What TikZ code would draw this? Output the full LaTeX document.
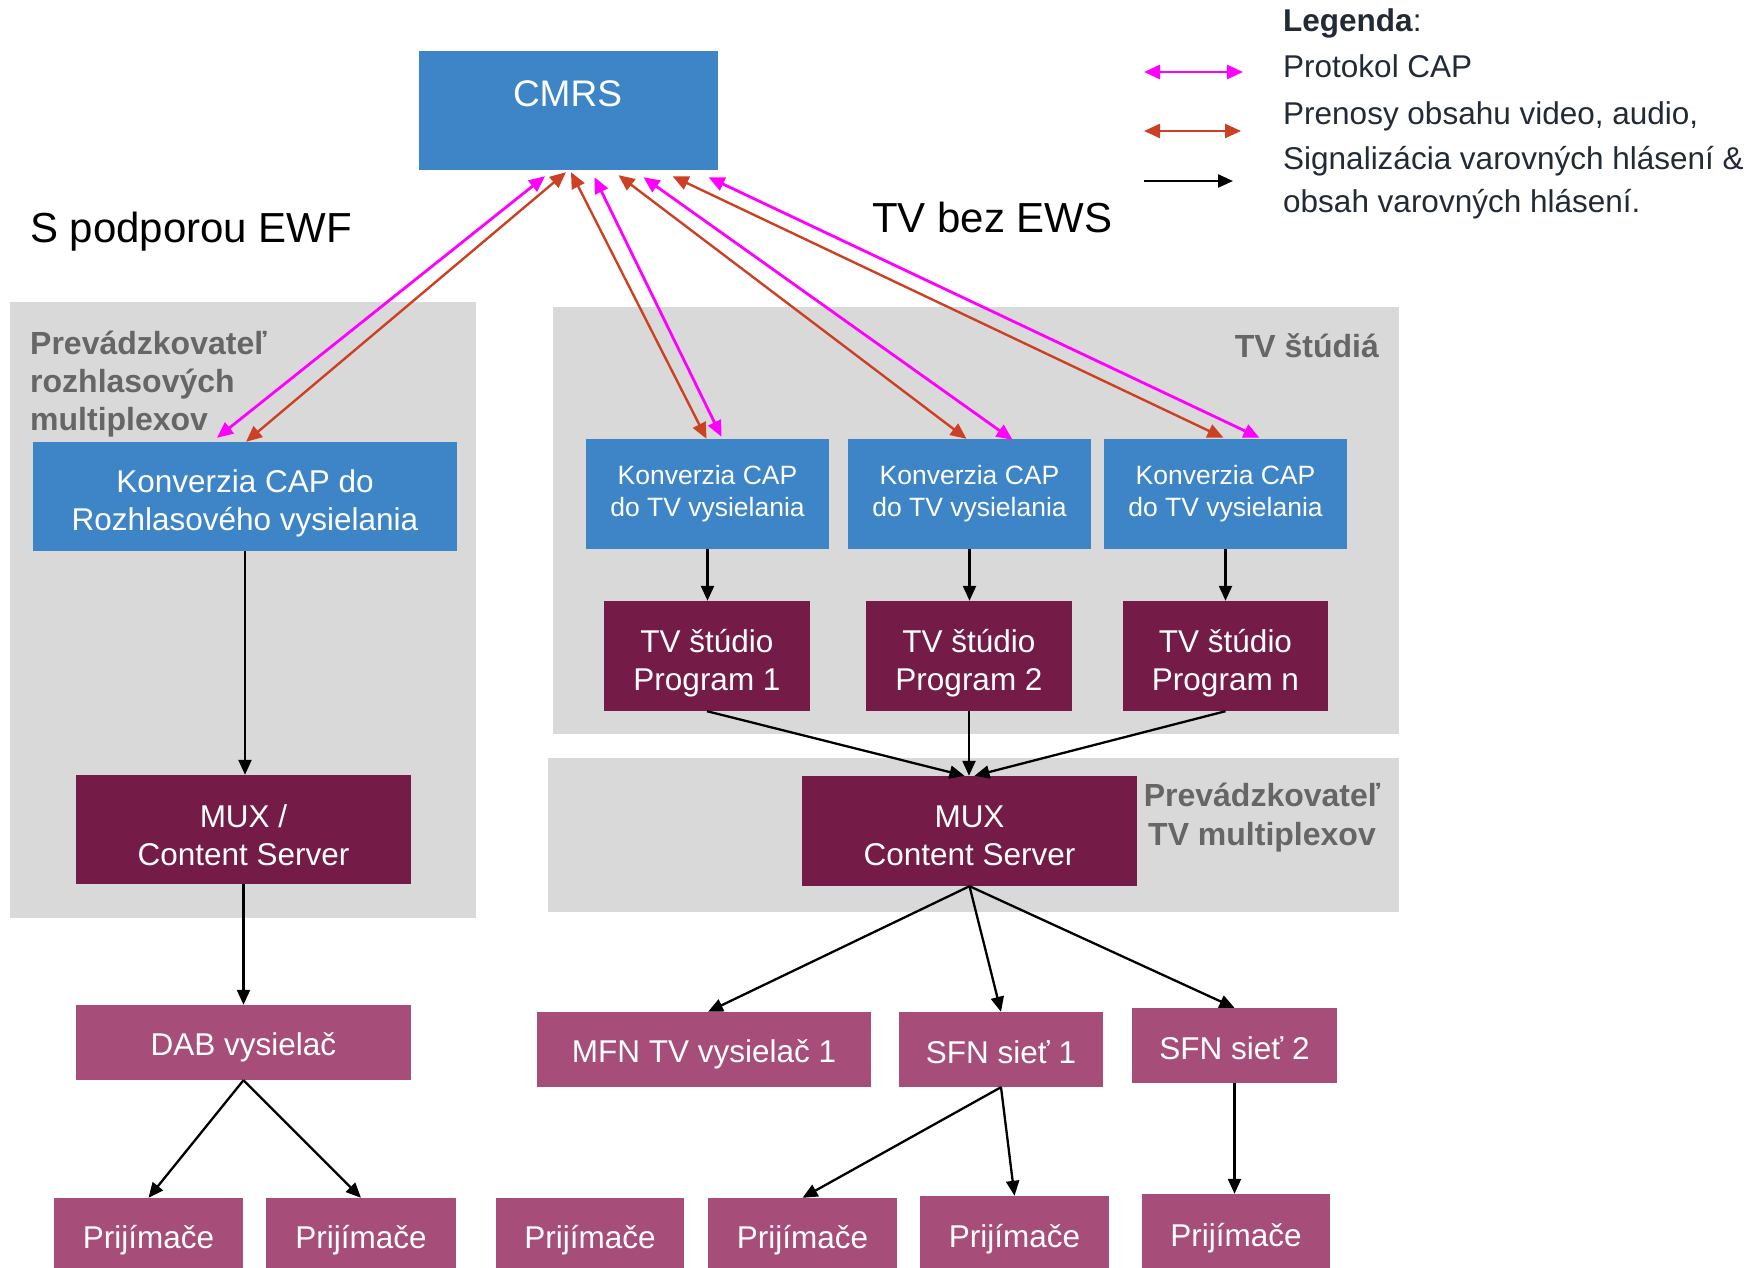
\documentclass[tikz,border=0pt]{standalone}
\usepackage{fontspec}
\setmainfont{Liberation Sans}
\usetikzlibrary{arrows.meta,calc}

\definecolor{cmblue}{HTML}{3D85C6}
\definecolor{darkplum}{HTML}{741B47}
\definecolor{plum}{HTML}{A64D79}
\definecolor{panelgray}{HTML}{D9D9D9}
\definecolor{labelgray}{HTML}{666666}
\definecolor{capmag}{HTML}{FF00FF}
\definecolor{mediared}{HTML}{CC4125}
\definecolor{legendink}{HTML}{222A35}

\tikzset{
  box/.style={rectangle, inner sep=0pt},
  bluebox/.style={box, fill=cmblue},
  darkbox/.style={box, fill=darkplum},
  lightbox/.style={box, fill=plum},
  % white caption centred in a box, lowered by the given amount
  boxtext/.style={text=white, align=center, inner sep=0pt, yshift=-#1,
    font=\fontsize{31.5}{38}\selectfont},
  boxtext/.default=6pt,
  smalltext/.style={boxtext=0pt, font=\fontsize{26.5}{32}\selectfont},
  panel/.style={fill=panelgray},
  paneltitle/.style={text=labelgray, inner sep=0pt,
    font=\bfseries\fontsize{32}{38}\selectfont},
  heading/.style={inner sep=0pt, font=\fontsize{42}{50}\selectfont},
  legendtext/.style={inner sep=0pt, text=legendink, anchor=base west,
    font=\fontsize{31.5}{38}\selectfont},
  feed/.style={draw=black, line width=2.3pt,
    -{Triangle[length=15pt,width=13pt]}},
  caplink/.style={draw=capmag, line width=2.8pt,
    {Triangle[length=16pt,width=14pt]}-{Triangle[length=16pt,width=14pt]}},
  medialink/.style={draw=mediared, line width=2.4pt,
    {Triangle[length=16pt,width=14pt]}-{Triangle[length=16pt,width=14pt]}},
}

\begin{document}
\begin{tikzpicture}[x=1pt,y=-1pt]
\useasboundingbox (0,0) rectangle (1762,1268);

% grey operator panels
\fill[panel] (10,302) rectangle (476,918);
\fill[panel] (553,307) rectangle (1399,734);
\fill[panel] (548,758) rectangle (1399,912);

% panel titles
\node[paneltitle, anchor=north west, align=left] (radioop) at (30,331)
  {Prevádzkovateľ\\rozhlasových\\multiplexov};
\node[paneltitle, anchor=base east] (studios) at (1379,357) {TV štúdiá};
\node[paneltitle, anchor=north, align=center,
  font=\bfseries\fontsize{32}{39}\selectfont] (tvop) at (1262,783)
  {Prevádzkovateľ\\TV multiplexov};

% headings
\node[heading, anchor=base west] (ewf) at (30,243) {S podporou EWF};
\node[heading, anchor=base west] (noews) at (872,233) {TV bez EWS};

% central CMRS
\node[bluebox, minimum width=299pt, minimum height=119pt] (cmrs) at (568.5,110.5) {};
\node[inner sep=0pt, text=white, anchor=base, font=\fontsize{37}{44}\selectfont]
  (cmrslabel) at (567.5,107) {CMRS};

% radio branch
\node[bluebox, minimum width=424pt, minimum height=109pt,
  label={[boxtext=7pt]center:{Konverzia CAP do\\Rozhlasového vysielania}}]
  (kr) at (245,496.5) {};
\node[darkbox, minimum width=335pt, minimum height=109pt,
  label={[boxtext=6pt]center:{MUX /\\Content Server}}]
  (muxr) at (243.5,829.5) {};
\node[lightbox, minimum width=335pt, minimum height=75pt,
  label={[boxtext=5pt]center:{DAB vysielač}}]
  (dab) at (243.5,1042.5) {};

% TV branch
\node[bluebox, minimum width=243pt, minimum height=110pt,
  label={[smalltext]center:{Konverzia CAP\\do TV vysielania}}]
  (ktv1) at (707.5,494) {};
\node[bluebox, minimum width=243pt, minimum height=110pt,
  label={[smalltext]center:{Konverzia CAP\\do TV vysielania}}]
  (ktv2) at (969.5,494) {};
\node[bluebox, minimum width=243pt, minimum height=110pt,
  label={[smalltext]center:{Konverzia CAP\\do TV vysielania}}]
  (ktv3) at (1225.5,494) {};

\node[darkbox, minimum width=206pt, minimum height=110pt,
  label={[boxtext=7pt]center:{TV štúdio\\Program 1}}]
  (prog1) at (707,656) {};
\node[darkbox, minimum width=206pt, minimum height=110pt,
  label={[boxtext=7pt]center:{TV štúdio\\Program 2}}]
  (prog2) at (969,656) {};
\node[darkbox, minimum width=205pt, minimum height=110pt,
  label={[boxtext=7pt]center:{TV štúdio\\Program n}}]
  (prog3) at (1225.5,656) {};

\node[darkbox, minimum width=335pt, minimum height=110pt,
  label={[boxtext=5pt]center:{MUX\\Content Server}}]
  (muxtv) at (969.5,831) {};

\node[lightbox, minimum width=334pt, minimum height=75pt,
  label={[boxtext=5pt]center:{MFN TV vysielač 1}}]
  (mfn) at (704,1049.5) {};
\node[lightbox, minimum width=204pt, minimum height=75pt,
  label={[boxtext=2.5pt]center:{SFN sieť 1}}]
  (sfn1) at (1001,1049.5) {};
\node[lightbox, minimum width=205pt, minimum height=75pt,
  label={[boxtext=2.5pt]center:{SFN sieť 2}}]
  (sfn2) at (1234.5,1045.5) {};

% receivers
\node[lightbox, minimum width=189pt, minimum height=72pt,
  label={[boxtext]center:{Prijímače}}] (rx1) at (148.5,1234) {};
\node[lightbox, minimum width=190pt, minimum height=72pt,
  label={[boxtext]center:{Prijímače}}] (rx2) at (361,1234) {};
\node[lightbox, minimum width=188pt, minimum height=72pt,
  label={[boxtext]center:{Prijímače}}] (rx3) at (590,1234) {};
\node[lightbox, minimum width=189pt, minimum height=72pt,
  label={[boxtext]center:{Prijímače}}] (rx4) at (802.5,1234) {};
\node[lightbox, minimum width=189pt, minimum height=74pt,
  label={[boxtext]center:{Prijímače}}] (rx5) at (1014.5,1233) {};
\node[lightbox, minimum width=188pt, minimum height=76pt,
  label={[boxtext]center:{Prijímače}}] (rx6) at (1236,1232) {};

% CAP protocol and media links from CMRS
\draw[caplink]   ([shift={(-23.5,6)}]cmrs.south) -- ([shift={(-28,-4)}]kr.north);
\draw[medialink] ([shift={(-2.5,2)}]cmrs.south)  -- ([shift={(1,0)}]kr.north);
\draw[medialink] ([shift={(2.5,2)}]cmrs.south)   -- ([shift={(-1,0)}]ktv1.north);
\draw[caplink]   ([shift={(26,7)}]cmrs.south)    -- ([shift={(14,-2)}]ktv1.north);
\draw[medialink] ([shift={(50,5)}]cmrs.south)    -- ([shift={(-3,0)}]ktv2.north);
\draw[caplink]   ([shift={(75,7)}]cmrs.south)    -- ([shift={(43,1)}]ktv2.north);
\draw[medialink] ([shift={(104,6)}]cmrs.south)   -- ([shift={(-2,-1)}]ktv3.north);
\draw[caplink]   ([shift={(140,7)}]cmrs.south)   -- ([shift={(34,-1)}]ktv3.north);

% signalling flow, radio
\draw[feed] (kr.south) -- (kr.south |- muxr.north);
\draw[feed] (muxr.south) -- (dab.north);
\draw[feed] (dab.south) -- (rx1.north);
\draw[feed] (dab.south) -- (rx2.north);

% signalling flow, TV
\draw[feed] (ktv1.south) -- (ktv1.south |- prog1.north);
\draw[feed] (ktv2.south) -- (ktv2.south |- prog2.north);
\draw[feed] (ktv3.south) -- (ktv3.south |- prog3.north);
\draw[feed] (prog1.south) -- ([xshift=-5pt]muxtv.north);
\draw[feed] (prog2.south) -- (prog2.south |- muxtv.north);
\draw[feed] (prog3.south) -- ([xshift=5pt]muxtv.north);
\draw[feed] (muxtv.south) -- ([xshift=4pt]mfn.north);
\draw[feed] (muxtv.south) -- (sfn1.north);
\draw[feed] (muxtv.south) -- (sfn2.north);
\draw[feed] (sfn1.south) -- (rx4.north);
\draw[feed] (sfn1.south) -- (rx5.north);
\draw[feed] (sfn2.south) -- (sfn2.south |- rx6.north);

% legend
\node[legendtext] (legtitle) at (1283,32) {\textbf{Legenda}:};
\node[legendtext] (legcap) at (1283,78) {Protokol CAP};
\node[legendtext] (legmedia) at (1283,125) {Prenosy obsahu video, audio,};
\node[legendtext] (legsig) at (1283,170) {Signalizácia varovných hlásení \&};
\node[legendtext] (legsig2) at (1283,213) {obsah varovných hlásení.};

\coordinate (capA) at (1144,72);   \coordinate (capB) at (1243,72);
\coordinate (medA) at (1144,131);  \coordinate (medB) at (1241,131);
\coordinate (sigA) at (1144,181);  \coordinate (sigB) at (1233,181);
\draw[caplink] (capA) -- (capB);
\draw[medialink] (medA) -- (medB);
\draw[feed] (sigA) -- (sigB);
\end{tikzpicture}
\end{document}
